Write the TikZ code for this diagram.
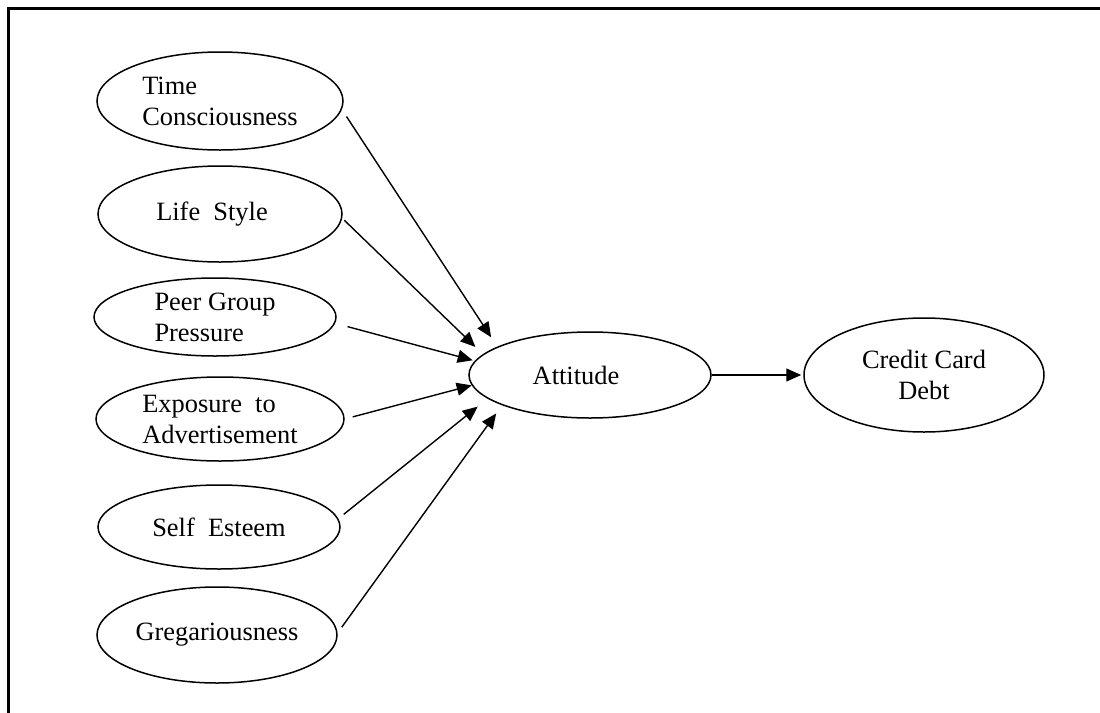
\documentclass[tikz,border=0pt]{standalone}
\usepackage{fontspec}
\setmainfont{Liberation Serif}
\usetikzlibrary{shapes.geometric,arrows.meta}
\begin{document}
\begin{tikzpicture}[x=0.5pt,y=-0.5pt,
  var/.style={ellipse,draw,line width=0.75pt,inner sep=0pt,
    font=\fontsize{13.2}{15.5}\selectfont,align=left},
  link/.style={line width=0.7pt,-{Triangle[length=7.5pt,width=6.5pt]}},
  frame/.style={line width=1.3pt}]
\useasboundingbox (0,0) rectangle (1100,713);
% open frame: top and left rules only
\draw[frame] (1100,8.7) -- (8.7,8.7) -- (8.7,713);

% antecedent variables
\node[var,minimum width=123pt,minimum height=49pt] (tc) at (220,101) {Time\\Consciousness};
\node[var,minimum width=122pt,minimum height=48pt] (ls) at (220,214) {Life\ \ Style\hspace*{8pt}};
\node[var,minimum width=121pt,minimum height=39pt] (pg) at (215,317) {Peer Group\\Pressure};
\node[var,minimum width=124pt,minimum height=42pt] (ex) at (220,419) {Exposure\ \ to\\Advertisement};
\node[var,minimum width=121pt,minimum height=42pt] (se) at (219,527) {Self\ \ Esteem};
\node[var,minimum width=120pt,minimum height=48pt] (gr) at (217,635) {Gregariousness};

% mediator and outcome
\node[var,minimum width=121pt,minimum height=43pt] (att) at (590,375) {Attitude\hspace*{14pt}};
\node[var,align=center,minimum width=120pt,minimum height=57pt] (ccd) at (924,375) {Credit Card\\Debt};

% paths
\draw[link,shorten <=4.2pt,shorten >=5.6pt] (tc.-4.75) -- (att.163.4);
\draw[link,shorten <=1.4pt,shorten >=5.2pt] (ls.-2.9) -- (att.169.6);
\draw[link,shorten <=6.4pt,shorten >=1.1pt] (pg.-3.66) -- (att.173.9);
\draw[link,shorten <=4.15pt] (ex.0) -- (att.-175.2);
\draw[link,shorten <=3.4pt,shorten >=6.35pt] (se.4.76) -- (att.-167.2);
\draw[link,shorten <=3.5pt,shorten >=5.05pt] (gr.1.1) -- (att.-161.1);
\draw[link,shorten >=1pt] (att.east) -- (ccd.west);
\end{tikzpicture}
\end{document}
